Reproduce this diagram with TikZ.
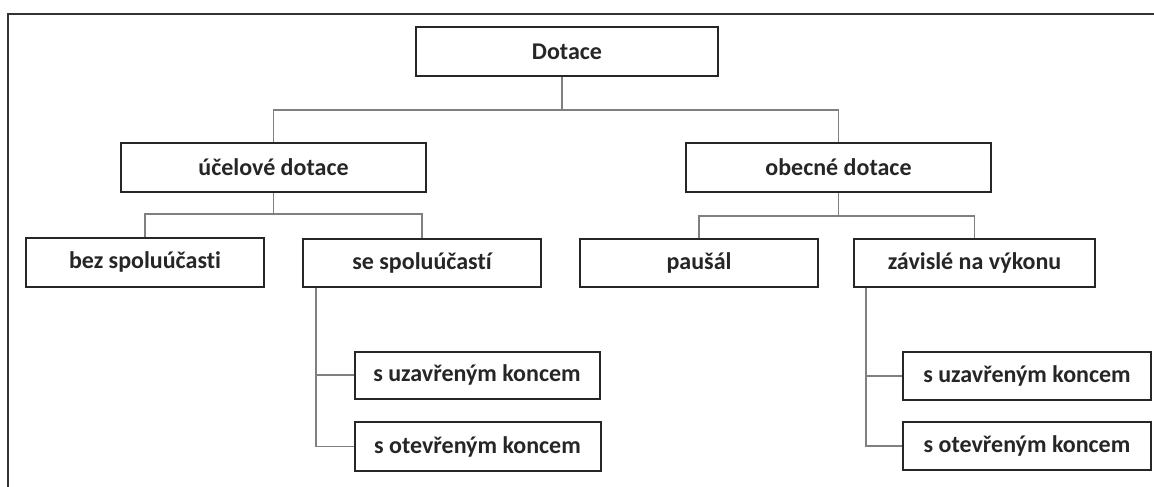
\documentclass[tikz,border=0pt]{standalone}
\usepackage{fontspec}
\setmainfont[Ligatures={NoCommon,NoContextual}]{Carlito}
\begin{document}
\begin{tikzpicture}[x=1pt,y=-1pt,
  box/.style={draw=black!85, line width=2pt, fill=white, inner sep=0pt,
    font=\fontsize{24}{28}\selectfont\bfseries, text=black!85},
  conn/.style={draw=black!50, line width=1.5pt},
  frame/.style={draw=black!80, line width=2.2pt}]
\useasboundingbox (0,0) rectangle (1154,487);
\draw[frame] (8,487) -- (8,14) -- (1154,14);

\node[box, minimum width=302pt, minimum height=49pt] (dot) at (567,51.5) {Dotace};
\node[box, minimum width=305pt, minimum height=49pt] (uc) at (273.5,167.5) {účelové dotace};
\node[box, minimum width=305pt, minimum height=49pt] (ob) at (838.5,167.5) {obecné dotace};

\node[box, minimum width=238pt, minimum height=49pt] (bez) at (145,262) {bez spoluúčasti};
\node[box, minimum width=238pt, minimum height=48pt] (se) at (422,263) {se spoluúčastí};
\node[box, minimum width=238pt, minimum height=48pt] (pau) at (699,263) {paušál};
\node[box, minimum width=241pt, minimum height=48pt] (zav) at (974.5,263) {závislé na výkonu};

\node[box, minimum width=245pt, minimum height=47pt] (su1) at (477,375) {s uzavřeným koncem};
\node[box, minimum width=246pt, minimum height=49pt] (so1) at (477.5,446.5) {s otevřeným koncem};
\node[box, minimum width=248pt, minimum height=48pt] (su2) at (1027,376) {s uzavřeným koncem};
\node[box, minimum width=248pt, minimum height=48pt] (so2) at (1027,446) {s otevřeným koncem};

\draw[conn] (dot.south) ++(-5,0) -- ++(0,33) coordinate (j1);
\draw[conn] (uc.north) |- (j1) -| (ob.north);

\draw[conn] (uc.south) -- ++(0,21) coordinate (j2);
\draw[conn] (bez.north) |- (j2) -| (se.north);

\draw[conn] (ob.south) -- ++(0,23) coordinate (j3);
\draw[conn] (pau.north) |- (j3) -| (zav.north);

\path (se.south west) ++(14,0) coordinate (j4);
\draw[conn] (j4) |- (su1.west);
\draw[conn] (j4) |- (so1.west);

\path (zav.south west) ++(13,0) coordinate (j5);
\draw[conn] (j5) |- (su2.west);
\draw[conn] (j5) |- (so2.west);
\end{tikzpicture}
\end{document}
